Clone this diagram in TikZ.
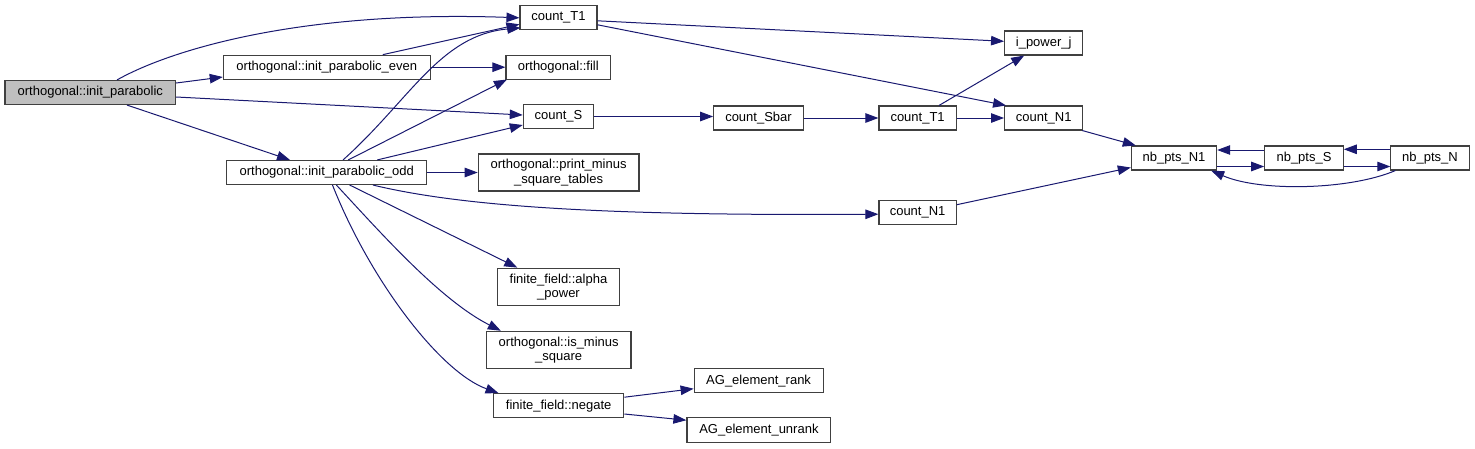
\documentclass[tikz,border=0pt]{standalone}
\usepackage{fontspec}
\setmainfont{Liberation Sans}
\usetikzlibrary{arrows.meta,calc}
\definecolor{edgecol}{HTML}{191970}
\definecolor{boxline}{HTML}{404040}
\definecolor{rootfill}{HTML}{BFBFBF}
\tikzset{
  fn/.style={draw=boxline, line width=1.1pt, fill=white, inner sep=0pt, minimum height=24pt,
    font=\fontsize{13}{14.5}\selectfont, align=center},
  rootfn/.style={fn, fill=rootfill},
  call/.style={draw=edgecol, line width=1pt, -{Triangle[length=13pt,width=9.5pt]}, color=edgecol}
}
\begin{document}
\begin{tikzpicture}[x=1pt,y=-1pt]
\useasboundingbox (0,0) rectangle (1475,448);
% nodes
\node[rootfn, minimum width=170.7pt] (ip) at (90.3,92.5) {orthogonal::init\_parabolic};
\node[fn, minimum width=207pt] (ipe) at (326.8,67.2) {orthogonal::init\_parabolic\_even};
\node[fn, minimum width=200pt] (ipo) at (326.7,172.5) {orthogonal::init\_parabolic\_odd};
\node[fn, minimum width=77pt] (ct1) at (558.5,17.8) {count\_T1};
\node[fn, minimum width=104.7pt] (fill) at (558.3,67.5) {orthogonal::fill};
\node[fn, minimum width=70.4pt] (cs) at (558.5,116.5) {count\_S};
\node[fn, minimum width=160.7pt, minimum height=37pt] (pm) at (558.6,172.5) {orthogonal::print\_minus\\\_square\_tables};
\node[fn, minimum width=89.6pt] (csb) at (758.5,118) {count\_Sbar};
\node[fn, minimum width=77.3pt] (ct1b) at (917.6,118) {count\_T1};
\node[fn, minimum width=78.2pt] (ipj) at (1043.7,43) {i\_power\_j};
\node[fn, minimum width=78.2pt] (cn1) at (1043.7,118) {count\_N1};
\node[fn, minimum width=77.3pt] (cn1b) at (917.6,212.7) {count\_N1};
\node[fn, minimum width=85.3pt] (nn1) at (1174,158) {nb\_pts\_N1};
\node[fn, minimum width=78.5pt] (ns) at (1304,158) {nb\_pts\_S};
\node[fn, minimum width=78.2pt] (nn) at (1430,158) {nb\_pts\_N};
\node[fn, minimum width=121.3pt, minimum height=37.7pt] (ap) at (558.5,287) {finite\_field::alpha\\\_power};
\node[fn, minimum width=144.6pt, minimum height=37.4pt] (ims) at (558.7,350) {orthogonal::is\_minus\\\_square};
\node[fn, minimum width=130.2pt] (neg) at (558.7,405.7) {finite\_field::negate};
\node[fn, minimum width=128.9pt] (agr) at (758.6,380.7) {AG\_element\_rank};
\node[fn, minimum width=143.9pt, minimum height=24.7pt] (agu) at (758.9,429.7) {AG\_element\_unrank};
% edges
\draw[call] ($(ip.north)+(26.7,0)$) .. controls (170,50) and (300,10) .. (ct1.west);
\draw[call] ($(ip.east)+(0,-9.5)$) -- ($(ipe.west)+(0,9.8)$);
\draw[call] ($(ip.east)+(0,4.5)$) -- ($(cs.west)+(0,-1.5)$);
\draw[call] ($(ip.south)+(36.7,0)$) -- ($(ipo.north)+(-36.7,0)$);
\draw[call] ($(ipe.north)+(56,0)$) -- ($(ct1.west)+(0,6.5)$);
\draw[call] (ipe.east) -- (fill.west |- ipe.east);
\draw[call] ($(ipo.north)+(16.3,0)$) .. controls (410,100) and (440,35) .. ($(ct1.west)+(1,10)$);
\draw[call] ($(ipo.north)+(21.5,0)$) -- ($(fill.south west)+(1.5,-0.5)$);
\draw[call] ($(ipo.north)+(50.5,0)$) -- ($(cs.west)+(0,8.5)$);
\draw[call] (ipo.east) -- (pm.west |- ipo.east);
\draw[call] ($(ipo.south)+(46.3,0)$) .. controls (460,206) and (600,216) .. ($(cn1b.west)+(0,1.5)$);
\draw[call] ($(ipo.south)+(23,0)$) -- ($(ap.north west)+(20,0)$);
\draw[call] ($(ipo.south)+(9.7,0)$) .. controls (380,232) and (440,300) .. ($(ims.north west)+(15,0)$);
\draw[call] ($(ipo.south)+(5.8,0)$) .. controls (370,280) and (440,372) .. ($(neg.north west)+(5.5,0)$);
\draw[call] ($(neg.east)+(0,-8.5)$) -- ($(agr.west)+(0,8)$);
\draw[call] ($(neg.east)+(0,8.3)$) -- ($(agu.west)+(0,-9.5)$);
\draw[call] ($(ct1.east)+(0,3)$) -- ($(ipj.west)+(0,-1.7)$);
\draw[call] ($(ct1.east)+(0,7)$) -- ($(cn1.north west)+(2,0)$);
\draw[call] (cs.east) -- (csb.west |- cs.east);
\draw[call] (csb.east) -- (ct1b.west);
\draw[call] ($(ct1b.north)+(21.4,0)$) -- ($(ipj.south)+(-19.5,0)$);
\draw[call] (ct1b.east) -- (cn1.west);
\draw[call] ($(cn1.south east)+(-1,0)$) -- ($(nn1.north west)+(5,0)$);
\draw[call] ($(cn1b.east)+(0,-8)$) -- ($(nn1.west)+(0,9.5)$);
\draw[call] ($(nn1.east)+(0,8.5)$) -- ($(ns.west)+(0,8.5)$);
\draw[call] ($(ns.west)+(0,-8)$) -- ($(nn1.east)+(0,-8)$);
\draw[call] ($(ns.east)+(0,8.5)$) -- ($(nn.west)+(0,8.5)$);
\draw[call] ($(nn.west)+(0,-8.7)$) -- ($(ns.east)+(0,-8.7)$);
\draw[call] ($(nn.south west)+(5,0)$) .. controls (1350,190) and (1260,192) .. ($(nn1.south east)+(-6,0)$);
\end{tikzpicture}
\end{document}
